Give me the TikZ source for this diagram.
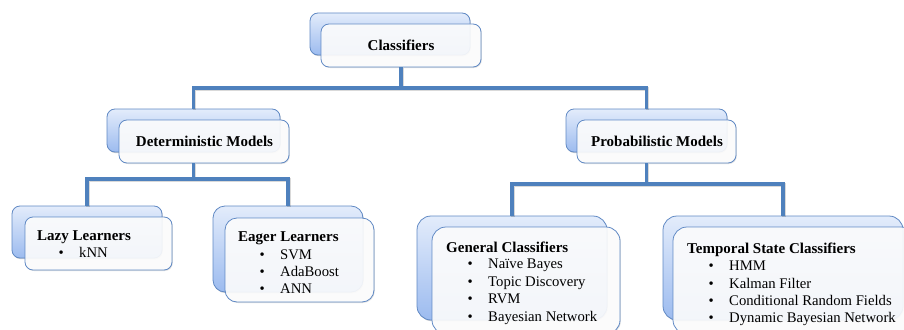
\documentclass[tikz,border=0pt]{standalone}
\usepackage{fontspec}
\setmainfont{Liberation Serif}
\usetikzlibrary{shadows}

\definecolor{linkblue}{HTML}{4F81BD}
\definecolor{frameblue}{HTML}{6089C4}
\definecolor{shadetop}{HTML}{E3ECFB}
\definecolor{shadebot}{HTML}{9CBBEF}

% bullet line with fixed indent for the item lists
\newcommand\bulletitem[1]{\makebox[42pt][l]{\hspace*{21.5pt}\textbullet}#1}

\tikzset{
  backbox/.style={draw=frameblue, line width=0.8pt, rounded corners=#1,
    top color=shadetop, bottom color=shadebot, inner sep=0pt,
    drop shadow={shadow xshift=0.8pt, shadow yshift=-1.2pt, opacity=0.18, fill=black}},
  backbox/.default=8pt,
  frontbox/.style={draw=frameblue, line width=0.8pt, rounded corners=#1,
    fill=white, fill opacity=0.9, inner sep=0pt,
    drop shadow={shadow xshift=0.8pt, shadow yshift=-1pt, opacity=0.12, fill=black}},
  frontbox/.default=8pt,
  link/.style={draw=linkblue, line width=3.2pt, line join=miter,
    preaction={draw=black, opacity=0.15, line width=3.2pt,
      transform canvas={xshift=0.9pt, yshift=-1pt}}},
  title/.style={anchor=base, inner sep=0pt, font=\fontsize{15}{18}\selectfont\bfseries},
  head/.style={anchor=base west, inner sep=0pt, font=\fontsize{15}{18}\selectfont\bfseries},
  entry/.style={anchor=base west, inner sep=0pt, font=\fontsize{14.7}{17}\selectfont},
}

\begin{document}
\begin{tikzpicture}[x=1pt, y=-1pt]
\useasboundingbox (0,0) rectangle (904,329);
\clip (0,0) rectangle (904,329);

% ---- boxes: shaded back card, white front card ----
\node[backbox, minimum width=160pt, minimum height=42pt] (clsB) at (390,34) {};
\node[frontbox, minimum width=160pt, minimum height=43pt] (clsF) at (401,45.5) {};

\node[backbox, minimum width=173pt, minimum height=43pt] (detB) at (193.5,130.5) {};
\node[frontbox, minimum width=170pt, minimum height=43pt] (detF) at (204,141.5) {};

\node[backbox, minimum width=161pt, minimum height=43pt] (proB) at (646.5,130.5) {};
\node[frontbox, minimum width=159pt, minimum height=43pt] (proF) at (656.5,141.5) {};

\node[backbox, minimum width=150pt, minimum height=52pt] (lazyB) at (87,232) {};
\node[frontbox, minimum width=147pt, minimum height=53pt] (lazyF) at (98.5,243.5) {};

\node[backbox=12pt, minimum width=150pt, minimum height=86pt] (eagB) at (288,249) {};
\node[frontbox=12pt, minimum width=149pt, minimum height=84pt] (eagF) at (299.5,260) {};

\node[backbox=14pt, minimum width=190pt, minimum height=104pt] (genB) at (512,268) {};
\node[frontbox=14pt, minimum width=188pt, minimum height=107pt] (genF) at (526,280.5) {};

\node[backbox=14pt, minimum width=240pt, minimum height=104pt] (tmpB) at (783,268) {};
\node[frontbox=14pt, minimum width=242pt, minimum height=107pt] (tmpF) at (794,280.5) {};

% ---- connectors ----
\coordinate (j1) at (401,88);
\coordinate (j2) at (193.5,179);
\coordinate (j3) at (646.5,184);

\draw[link] (clsF.south) -- (j1);
\draw[link] (detB.north) |- (j1) -| (proB.north);

\draw[link] (detF.south -| j2) -- (j2);
\draw[link] (lazyB.north) |- (j2) -| (eagB.north);

\draw[link] (proF.south -| j3) -- (j3);
\draw[link] (genB.north) |- (j3) -| (tmpB.north);

% ---- titles ----
\node[title] (clsT) at (401,51) {Classifiers};
\node[title] (detT) at (204.5,146.7) {Deterministic Models};
\node[title] (proT) at (657,146.7) {Probabilistic Models};

% ---- lists ----
\node[head]  (lazyH)  at (37,240)   {Lazy Learners};
\node[entry] (lazy1)  at (37,257)   {\bulletitem{kNN}};

\node[head]  (eagH)   at (238,241.7) {Eager Learners};
\node[entry] (eag1)   at (238,259)   {\bulletitem{SVM}};
\node[entry] (eag2)   at (238,276.7) {\bulletitem{AdaBoost}};
\node[entry] (eag3)   at (238,293.3) {\bulletitem{ANN}};

\node[head]  (genH)   at (446,252)   {General Classifiers};
\node[entry] (gen1)   at (446,268.5) {\bulletitem{Naïve Bayes}};
\node[entry] (gen2)   at (446,286)   {\bulletitem{Topic Discovery}};
\node[entry] (gen3)   at (446,303.5) {\bulletitem{RVM}};
\node[entry] (gen4)   at (446,321)   {\bulletitem{Bayesian Network}};

\node[head]  (tmpH)   at (687,253.3) {Temporal State Classifiers};
\node[entry] (tmp1)   at (687,270.7) {\bulletitem{HMM}};
\node[entry] (tmp2)   at (687,288)   {\bulletitem{Kalman Filter}};
\node[entry] (tmp3)   at (687,305.5) {\bulletitem{Conditional Random Fields}};
\node[entry] (tmp4)   at (687,322.7) {\bulletitem{Dynamic Bayesian Network}};
\end{tikzpicture}
\end{document}
